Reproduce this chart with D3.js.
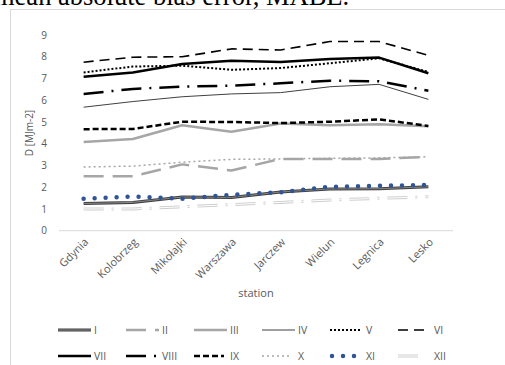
<!DOCTYPE html>
<html>
<head>
<meta charset="utf-8">
<script src="https://cdn.jsdelivr.net/npm/d3@7"></script>
<style>
  html, body { margin: 0; padding: 0; background: #fff; overflow: hidden; }
  svg { display: block; }
  text { font-family: "Open Sans", "Liberation Sans", sans-serif; }
</style>
</head>
<body>
<svg id="chart" width="505" height="365"></svg>
<script>
// Stations along the x axis
const stations = ["Gdynia", "Kolobrzeg", "Mikołajki", "Warszawa", "Jarczew", "Wielun", "Legnica", "Lesko"];

// Monthly series (Roman numerals = months), D in MJ m-2
const seriesNames = ["I", "II", "III", "IV", "V", "VI", "VII", "VIII", "IX", "X", "XI", "XII"];
const valI    = [1.25, 1.30, 1.55, 1.53, 1.78, 1.92, 1.93, 2.02];
const valII   = [2.50, 2.50, 3.05, 2.77, 3.30, 3.30, 3.30, 3.40];
const valIII  = [4.08, 4.22, 4.85, 4.55, 4.93, 4.85, 4.90, 4.80];
const valIV   = [5.68, 5.94, 6.16, 6.29, 6.35, 6.62, 6.73, 6.04];
const valV    = [7.28, 7.55, 7.59, 7.40, 7.48, 7.70, 7.93, 7.30];
const valVI   = [7.75, 7.98, 8.00, 8.36, 8.31, 8.70, 8.70, 8.06];
const valVII  = [7.08, 7.28, 7.67, 7.82, 7.76, 7.90, 7.96, 7.24];
const valVIII = [6.29, 6.52, 6.63, 6.67, 6.78, 6.90, 6.87, 6.44];
const valIX   = [4.67, 4.68, 5.01, 5.00, 4.95, 5.01, 5.12, 4.82];
const valX    = [2.93, 2.97, 3.15, 3.28, 3.30, 3.33, 3.35, 3.40];
const valXI   = [1.47, 1.57, 1.47, 1.65, 1.77, 2.02, 2.07, 2.10];
const valXII  = [1.00, 1.00, 1.10, 1.20, 1.30, 1.41, 1.49, 1.56];

const yTicks = [0, 1, 2, 3, 4, 5, 6, 7, 8, 9];

// Stroke styles per month: outer stroke plus optional inner stroke for double lines;
// "len" is the legend sample length
const styles = {
  I:    { color: "#404040", width: 3,   dash: null, inner: { color: "#9a9a9a", width: 0.8 } },
  II:   { color: "#a6a6a6", width: 2.5, dash: "20,9" },
  III:  { color: "#a6a6a6", width: 2.5, dash: null },
  IV:   { color: "#404040", width: 1,   dash: null },
  V:    { color: "#000000", width: 2,   dash: "2,2", len: 31 },
  VI:   { color: "#000000", width: 1.6, dash: "10,6", len: 31 },
  VII:  { color: "#000000", width: 2.5, dash: null },
  VIII: { color: "#000000", width: 2.5, dash: "20,8,2,8" },
  IX:   { color: "#000000", width: 2.5, dash: "6,3", len: 30 },
  X:    { color: "#a6a6a6", width: 1.5, dash: "2,3", len: 29 },
  XI:   { color: "#2f5597", width: 4.5, dash: "0,11", cap: "round", len: 23 },
  XII:  { color: "#cfcfcf", width: 3,   dash: "20,8,2,8", inner: { color: "#ffffff", width: 1 }, len: 22 }
};

const seriesValues = [valI, valII, valIII, valIV, valV, valVI, valVII, valVIII, valIX, valX, valXI, valXII];
const series = seriesNames.map((name, i) => ({ name, values: seriesValues[i] }));

const svg = d3.select("#chart");

// Title (partly above the visible area)
svg.append("text")
  .attr("x", -6).attr("y", 5)
  .style("font-family", "'Liberation Serif', 'Times New Roman', serif")
  .style("font-size", "26.5px")
  .attr("fill", "#000")
  .text("mean absolute bias error, MABE.");

// Chart frame
svg.append("rect")
  .attr("x", 10.5).attr("y", 9.5)
  .attr("width", 600).attr("height", 400)
  .attr("fill", "none").attr("stroke", "#d9d9d9").attr("stroke-width", 1);

const x = d3.scalePoint().domain(stations).range([59, 453]).padding(0.5);
const y = d3.scaleLinear().domain([0, 9]).range([230.7, 35]);

// Baseline at zero
svg.append("line")
  .attr("x1", 59).attr("x2", 453)
  .attr("y1", y(0)).attr("y2", y(0))
  .attr("stroke", "#d9d9d9").attr("stroke-width", 1);

// Y axis tick labels
const yAxis = d3.axisLeft(y).tickValues(yTicks).tickSize(0).tickPadding(0).tickFormat(d3.format("d"));
const yg = svg.append("g").attr("transform", "translate(47,0)").call(yAxis);
yg.select(".domain").remove();
yg.selectAll("text")
  .attr("fill", "#595959")
  .style("font-size", "10px");

// X axis tick labels (rotated)
const xAxis = d3.axisBottom(x).tickSize(0).tickPadding(0);
const xg = svg.append("g").attr("transform", `translate(0,${y(0)})`).call(xAxis);
xg.select(".domain").remove();
xg.selectAll("text")
  .attr("fill", "#595959")
  .style("font-size", "11px")
  .attr("text-anchor", "end")
  .attr("dy", null)
  .attr("transform", "translate(5,12) rotate(-45)");

// Axis titles
svg.append("text")
  .attr("x", 256).attr("y", 297)
  .attr("text-anchor", "middle")
  .attr("fill", "#595959")
  .style("font-size", "11px")
  .text("station");

svg.append("text")
  .attr("transform", "translate(33,133) rotate(-90)")
  .attr("text-anchor", "middle")
  .attr("fill", "#595959")
  .style("font-size", "10px")
  .text("D [MJm-2]");

// Series lines
const line = d3.line()
  .x((d, i) => x(stations[i]))
  .y(d => y(d));

function strokeLine(sel, st) {
  sel.attr("fill", "none")
    .attr("stroke", st.color)
    .attr("stroke-width", st.width)
    .attr("stroke-linecap", st.cap || "butt")
    .attr("stroke-linejoin", "round");
  if (st.dash) sel.attr("stroke-dasharray", st.dash);
}

const plot = svg.append("g");
series.forEach(s => {
  const st = styles[s.name];
  strokeLine(plot.append("path").attr("d", line(s.values)), st);
  if (st.inner) {
    strokeLine(plot.append("path").attr("d", line(s.values)),
      { color: st.inner.color, width: st.inner.width, dash: st.dash, cap: st.cap });
  }
});

// Legend: two rows of six entries
const legend = svg.append("g");
series.forEach((s, i) => {
  const row = Math.floor(i / 6);
  const col = i % 6;
  const lx = 58 + col * 68;
  const ly = row === 0 ? 330 : 356;
  const st = styles[s.name];
  const len = st.len || 33;
  const startX = s.name === "XI" ? lx + 2 : lx;
  const sample = [[startX, ly], [startX + len, ly]];
  strokeLine(legend.append("path").attr("d", d3.line()(sample)), st);
  if (st.inner) {
    strokeLine(legend.append("path").attr("d", d3.line()(sample)),
      { color: st.inner.color, width: st.inner.width, dash: st.dash, cap: st.cap });
  }
  legend.append("text")
    .attr("x", lx + 36).attr("y", ly + 4)
    .attr("fill", "#595959")
    .style("font-size", "10.5px")
    .text(s.name);
});
</script>
</body>
</html>
